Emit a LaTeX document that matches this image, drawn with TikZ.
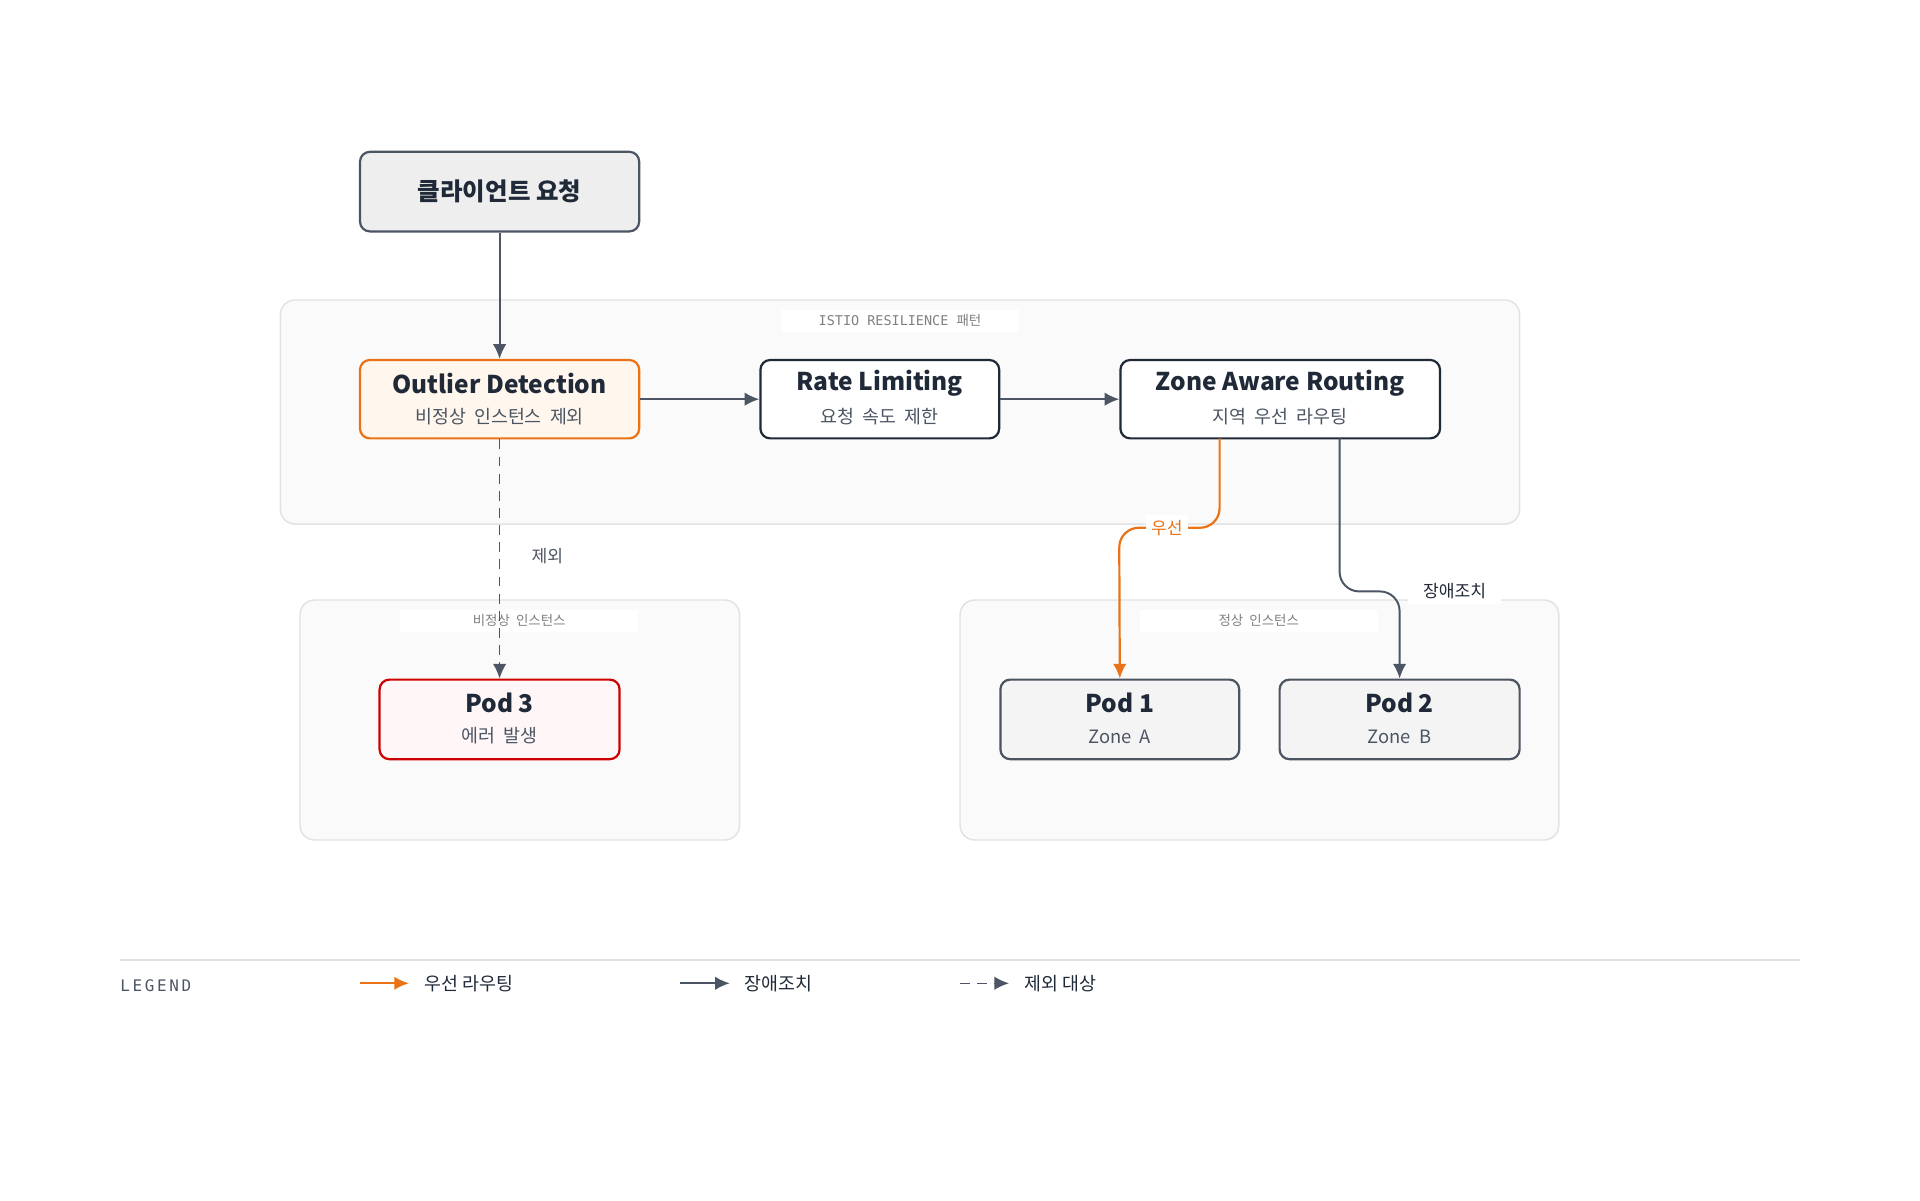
\documentclass[tikz,border=0pt]{standalone}
\usepackage{fontspec}
\setmainfont{Noto Sans CJK KR}
\newfontfamily\monof{DejaVu Sans Mono}
\newfontfamily\kr{Noto Sans CJK KR}
\usetikzlibrary{arrows.meta}
\definecolor{dark}{HTML}{1F2937}
\definecolor{edge}{HTML}{4B5563}
\definecolor{org}{HTML}{EA7317}
\definecolor{grp}{HTML}{FAFAFA}
\definecolor{grpb}{HTML}{E2E2E2}
\definecolor{sub}{HTML}{4B5563}
\begin{document}
\begin{tikzpicture}[x=0.5pt,y=-0.5pt,
  grpbox/.style={draw=grpb,fill=grp,rounded corners=6pt,line width=0.6pt},
  glab/.style={fill=white,text=gray,font=\monof\fontsize{5.5}{6}\selectfont,minimum width=97pt,inner sep=2pt},
  box/.style={rounded corners=4pt,line width=0.9pt,align=center,inner sep=0pt},
  ttl/.style={font=\bfseries\fontsize{10}{12}\selectfont,text=dark},
  sbt/.style={font=\fontsize{7.5}{9}\selectfont,text=sub},
  arr/.style={draw=edge,line width=0.8pt,-{Latex[length=6pt,width=5.5pt]}},
  oarr/.style={draw=org,line width=0.9pt,-{Latex[length=6pt,width=5.5pt]}},
  lab/.style={font=\fontsize{7}{8}\selectfont,fill=white,inner sep=2pt}]
\useasboundingbox (0,0) rectangle (1568,980);
% groups
\draw[grpbox] (229,245) rectangle (1241,428);
\node[glab] (g1) at (735,262) {ISTIO RESILIENCE {\kr 패턴}};
\draw[grpbox] (245,490) rectangle (604,686);
\node[glab,font=\kr\fontsize{5.5}{6}\selectfont] (g2) at (424,507) {비정상\ \ 인스턴스};
\draw[grpbox] (784,490) rectangle (1273,686);
\node[glab,font=\kr\fontsize{5.5}{6}\selectfont] (g3) at (1028,507) {정상\ \ 인스턴스};
% nodes
\node[box,draw=edge,fill=black!6.5,minimum width=114pt,minimum height=32.5pt,font=\bfseries\fontsize{10}{12}\selectfont,text=dark] (client) at (408,156.5) {클라이언트 요청};
\node[box,draw=org,fill=orange!7,minimum width=114pt,minimum height=32pt] (od) at (408,326) {};
\node[ttl] at (408,313) {Outlier Detection};
\node[sbt] at (408,340) {비정상\ \ 인스턴스\ \ 제외};
\node[box,draw=dark,fill=white,minimum width=97.5pt,minimum height=32pt] (rl) at (718.5,326) {};
\node[ttl] at (718.5,313) {Rate Limiting};
\node[sbt] at (718.5,340) {요청\ \ 속도\ \ 제한};
\node[box,draw=dark,fill=white,minimum width=130.5pt,minimum height=32pt] (zr) at (1045.5,326) {};
\node[ttl] at (1045.5,313) {Zone Aware Routing};
\node[sbt] at (1045.5,340) {지역\ \ 우선\ \ 라우팅};
\node[box,draw=red!80!black,fill=red!3,minimum width=98pt,minimum height=32.5pt] (p3) at (408,587.5) {};
\node[ttl] at (408,574) {Pod 3};
\node[sbt] at (408,601) {에러\ \ 발생};
\node[box,draw=dark!80,fill=black!4.5,minimum width=97.5pt,minimum height=32.5pt] (p1) at (914.5,587.5) {};
\node[ttl] at (914.5,574) {Pod 1};
\node[sbt] at (914.5,602) {Zone\ \ A};
\node[box,draw=dark!80,fill=black!4.5,minimum width=98pt,minimum height=32.5pt] (p2) at (1143,587.5) {};
\node[ttl] at (1143,574) {Pod 2};
\node[sbt] at (1143,602) {Zone\ \ B};
% edges
\draw[arr] (client) -- (od);
\draw[arr] (od) -- (rl);
\draw[arr] (rl) -- (zr);
\draw[arr,dashed,dash pattern=on 4pt off 3pt,line width=0.6pt] (od.south) -- (p3.north);
\node[font=\fontsize{7}{8}\selectfont,text=sub] (lx) at (447,454) {제외};
\coordinate (zo) at (996,358);
\draw[oarr,rounded corners=8pt] (zo) -- (996,431) -- (914,431) -- (p1.north);
\node[lab,text=org] (lp) at (953,431) {우선};
\coordinate (zg) at (1094,358);
\draw[arr,rounded corners=8pt] (zg) -- (1094,483) -- (1143,483) -- (p2.north);
\node[lab,text=dark,inner xsep=6pt] (lf) at (1188,483) {장애조치};
% legend
\draw[grpb,line width=0.7pt] (98,784) -- (1470,784);
\node[anchor=west,inner sep=0pt,font=\monof\fontsize{6.5}{8}\selectfont,text=sub] (lg) at (98,805) {L\,E\,G\,E\,N\,D};
\coordinate (a1) at (294,803); \coordinate (a2) at (334,803);
\draw[oarr] (a1) -- (a2);
\node[anchor=west,font=\fontsize{7.5}{9}\selectfont,text=dark] (t1) at (340,803) {우선 라우팅};
\coordinate (b1) at (555,803); \coordinate (b2) at (596,803);
\draw[arr] (b1) -- (b2);
\node[anchor=west,font=\fontsize{7.5}{9}\selectfont,text=dark] (t2) at (601,803) {장애조치};
\coordinate (c1) at (784,803); \coordinate (c2) at (824,803);
\draw[arr,dashed,dash pattern=on 4pt off 3pt,line width=0.6pt] (c1) -- (c2);
\node[anchor=west,font=\fontsize{7.5}{9}\selectfont,text=dark] (t3) at (830,803) {제외 대상};
\end{tikzpicture}
\end{document}
